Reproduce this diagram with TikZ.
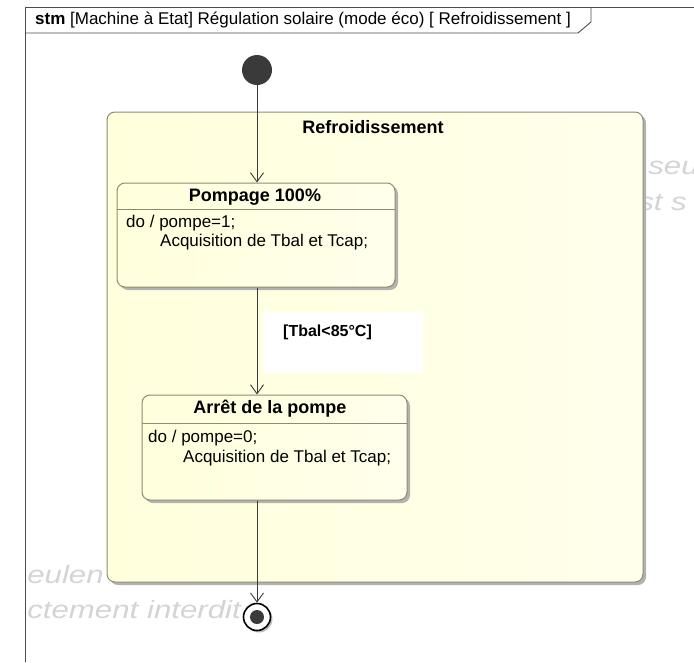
\documentclass[tikz,border=0pt]{standalone}
\usepackage{fontspec}
\setmainfont{Liberation Sans}
\usetikzlibrary{shadows,arrows.meta}

\definecolor{boxline}{HTML}{8E8C6E}
\definecolor{boxfill}{HTML}{FFFFDC}
\definecolor{wmark}{HTML}{D4D4D4}
\definecolor{ink}{HTML}{3A3A3A}

\tikzset{
  statebox/.style={draw=boxline, line width=1pt, rounded corners=8pt,
    left color=boxfill, right color=boxfill!55!white,
    drop shadow={shadow xshift=3pt, shadow yshift=-3pt, fill=gray!60, opacity=1}},
  sep/.style={draw=boxline, line width=0.8pt},
  trans/.style={draw=ink, line width=0.9pt, -{Straight Barb[length=9pt,width=13pt]}},
  body/.style={anchor=west, inner sep=0pt, font=\fontsize{17}{20}\selectfont},
  titre/.style={inner sep=0pt, font=\fontsize{18}{21}\selectfont\bfseries},
  filigrane/.style={anchor=west, inner sep=0pt, text=wmark, xscale=1.25,
    font=\fontsize{25}{28}\selectfont\itshape}
}

\begin{document}
\begin{tikzpicture}[x=1pt,y=-1pt]
\useasboundingbox (0,0) rectangle (694,662);

% cadre du diagramme
\draw[gray!60!black, line width=0.9pt] (25,662) -- (25,7) -- (694,7);
\draw[gray!60!black, line width=0.9pt] (25,33) -- (578,33) -- (591,22) -- (591,7);
\node[anchor=west, inner sep=0pt, font=\fontsize{17}{20}\selectfont] (cadre) at (35,20)
  {\textbf{stm} [Machine à Etat] Régulation solaire (mode éco) [ Refroidissement ]};

% filigrane
\begin{scope}
\clip (26,8) rectangle (694,662);
\node[filigrane] (fa) at (27,575) {eulen};
\node[filigrane] (fb) at (27,610) {ctement interdit};
\node[filigrane] (fc) at (648,168) {seu};
\node[filigrane] (fd) at (638,203) {st s};
\end{scope}

% etat composite
\node[statebox, minimum width=536pt, minimum height=470pt] (refroid) at (375,347) {};
\node[titre] (trefroid) at (373,127) {Refroidissement};

% etats
\node[statebox, minimum width=278pt, minimum height=104pt] (pompage) at (256,235) {};
\draw[sep] (117,209) -- (395,209);
\node[titre] (tpompage) at (255,197) {Pompage 100\%};
\node[body] (dpompage) at (126,223) {do / pompe=1;};
\node[body] (apompage) at (160,242) {Acquisition de Tbal et Tcap;};

\node[statebox, minimum width=265pt, minimum height=105pt] (arret) at (274.5,447.5) {};
\draw[sep] (142,423) -- (407,423);
\node[titre] (tarret) at (270,409) {Arrêt de la pompe};
\node[body] (darret) at (148,438) {do / pompe=0;};
\node[body] (aarret) at (183,458) {Acquisition de Tbal et Tcap;};

% pseudo-etats
\node[circle, fill=ink, minimum size=30pt, inner sep=0pt] (init) at (257,70) {};
\node[circle, draw=black, line width=1.6pt, fill=white, minimum size=27pt, inner sep=0pt,
  drop shadow={shadow xshift=2pt, shadow yshift=-2pt, fill=gray!50, opacity=1}] (fin) at (257,617) {};
\node[circle, fill=ink, minimum size=14pt, inner sep=0pt] (finc) at (fin) {};

% garde
\node[fill=white, minimum width=160pt, minimum height=61pt, inner sep=0pt] (gardebox) at (343,342.5) {};
\node[anchor=west, inner sep=0pt, font=\fontsize{16}{19}\selectfont\bfseries] (garde) at (283,332) {[Tbal<85°C]};

% transitions
\draw[trans] (init) -- (pompage.north -| init);
\draw[trans] (pompage.south -| init) -- (arret.north -| init);
\draw[trans] (arret.south -| init) -- (fin);

\end{tikzpicture}
\end{document}
